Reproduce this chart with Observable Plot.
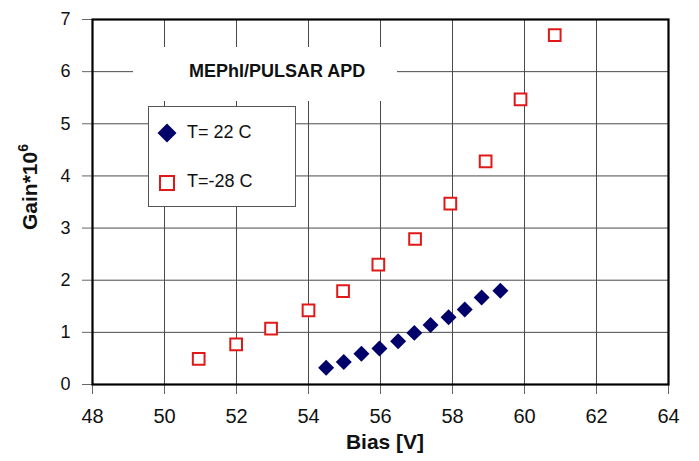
<!DOCTYPE html>
<html>
<head>
<meta charset="utf-8">
<script src="https://cdn.jsdelivr.net/npm/d3@7"></script>
<script src="https://cdn.jsdelivr.net/npm/@observablehq/plot@0.6"></script>
<style>
  html, body { margin: 0; padding: 0; background: #fff; }
  #wrap { position: relative; width: 699px; height: 461px; font-family: "Liberation Sans", Arial, sans-serif; }
  #title { position: absolute; left: 133px; top: 47px; width: 264px; height: 54px; background: #fff; }
  #title span { position: absolute; left: 56px; top: 14px; font-weight: bold; font-size: 18px; color: #111; white-space: nowrap; }
  #legend { position: absolute; left: 148px; top: 106px; width: 146px; height: 99px; background: #fff; border: 1.5px solid #555; }
  .lg { position: absolute; left: 38px; font-size: 18px; color: #111; white-space: nowrap; }
  .sym { position: absolute; left: 8px; }
</style>
</head>
<body>
<div id="wrap"></div>
<script>
// Data
const seriesNames = ["T= 22 C", "T=-28 C"];
const biasWarm = [54.49, 54.98, 55.47, 55.97, 56.49, 56.94, 57.39, 57.89, 58.34, 58.81, 59.33];
const gainWarm = [0.32, 0.43, 0.59, 0.69, 0.83, 0.99, 1.14, 1.29, 1.44, 1.67, 1.80];
const biasCold = [50.95, 51.99, 52.96, 54.0, 54.96, 55.94, 56.96, 57.94, 58.92, 59.89, 60.84];
const gainCold = [0.49, 0.77, 1.07, 1.42, 1.79, 2.30, 2.79, 3.47, 4.28, 5.47, 6.70];
const xTicks = [48, 50, 52, 54, 56, 58, 60, 62, 64];
const yTicks = [0, 1, 2, 3, 4, 5, 6, 7];
const chartTitle = "MEPhI/PULSAR APD";
const xLabel = "Bias [V]";
const yLabelBase = "Gain*10";
const yLabelExp = "6";

const warm = biasWarm.map((b, i) => ({bias: b, gain: gainWarm[i]}));
const cold = biasCold.map((b, i) => ({bias: b, gain: gainCold[i]}));

const chart = Plot.plot({
  width: 699,
  height: 461,
  marginLeft: 92,
  marginRight: 31,
  marginTop: 19,
  marginBottom: 77,
  style: {fontFamily: "Liberation Sans, Arial, sans-serif", background: "#fff", color: "#111"},
  x: {domain: [48, 64]},
  y: {domain: [0, 7]},
  marks: [
    Plot.gridX(xTicks, {stroke: "#4a4a4a", strokeOpacity: 1, strokeWidth: 1}),
    Plot.gridY(yTicks, {stroke: "#4a4a4a", strokeOpacity: 1, strokeWidth: 1}),
    Plot.axisX(xTicks, {tickSize: 10, tickPadding: 14, fontSize: 20, stroke: "#666", fill: "#111", label: null, tickFormat: (d) => String(d)}),
    Plot.axisY(yTicks, {tickSize: 10, tickPadding: 12, fontSize: 18, stroke: "#666", fill: "#111", label: null, tickFormat: (d) => String(d)}),
    Plot.frame({stroke: "#000", strokeWidth: 2.2}),
    Plot.dot(cold, {x: "bias", y: "gain", symbol: "square", r: 6.6, stroke: "#e01818", strokeWidth: 2, fill: "#fff"}),
    Plot.dot(warm, {x: "bias", y: "gain", symbol: "diamond2", r: 7.2, fill: "#00006a", stroke: "none"})
  ]
});

const svg = d3.select(chart);
svg.append("text")
  .attr("x", 385).attr("y", 449)
  .attr("text-anchor", "middle")
  .attr("font-size", 21).attr("font-weight", "bold").attr("fill", "#111")
  .text(xLabel);
const yl = svg.append("text")
  .attr("transform", "translate(37,230) rotate(-90)")
  .attr("text-anchor", "start")
  .attr("font-size", 21).attr("font-weight", "bold").attr("fill", "#111");
yl.append("tspan").text(yLabelBase);
yl.append("tspan").attr("dy", -9).attr("font-size", 14).text(yLabelExp);

const wrap = document.getElementById("wrap");
wrap.appendChild(chart);

const t = document.createElement("div");
t.id = "title";
t.innerHTML = `<span>${chartTitle}</span>`;
wrap.appendChild(t);

const lg = document.createElement("div");
lg.id = "legend";
lg.innerHTML =
  `<svg class="sym" style="top:16px" width="20" height="20"><path d="M10,0.5L19.5,10L10,19.5L0.5,10Z" fill="#00006a"/></svg>` +
  `<div class="lg" style="top:15px">${seriesNames[0]}</div>` +
  `<svg class="sym" style="top:66px" width="20" height="20"><rect x="3" y="3" width="14" height="14" fill="#fff" stroke="#e01818" stroke-width="2"/></svg>` +
  `<div class="lg" style="top:64px">${seriesNames[1]}</div>`;
wrap.appendChild(lg);
</script>
</body>
</html>
